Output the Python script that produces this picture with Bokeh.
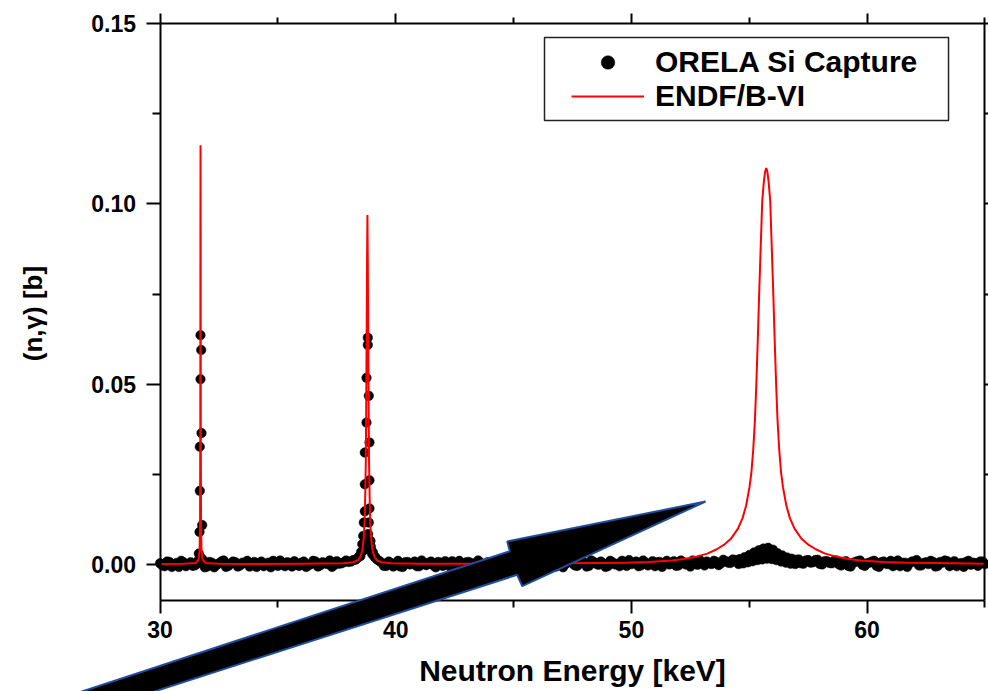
from bokeh.plotting import figure
from bokeh.models import (FixedTicker, PrintfTickFormatter, LinearAxis, Range1d, Label,
                          Legend, LegendItem, PolyAnnotation, BoxAnnotation)
from bokeh.embed import file_html
from bokeh.resources import INLINE

# ---------------- data ----------------
# ORELA Si capture: baseline / broad region (first sweep)
orela_base_e = [
    30.0, 30.2, 30.4, 30.6, 30.8, 31.0, 31.2, 31.4, 31.6, 31.8,
    32.0, 32.2, 32.4, 32.6, 32.8, 33.0, 33.2, 33.4, 33.6, 33.8,
    34.0, 34.2, 34.4, 34.6, 34.8, 35.0, 35.2, 35.4, 35.6, 35.8,
    36.0, 36.2, 36.4, 36.6, 36.8, 37.0, 37.2, 37.4, 37.6, 37.8,
    38.0, 38.2, 38.4, 38.6, 38.8, 39.0, 39.2, 39.4, 39.6, 39.8,
    40.0, 40.2, 40.4, 40.6, 40.8, 41.0, 41.2, 41.4, 41.6, 41.8,
    42.0, 42.2, 42.4, 42.6, 42.8, 43.0, 43.2, 43.4, 43.6, 43.8,
    44.0, 44.2, 44.4, 44.6, 44.8, 45.0, 45.2, 45.4, 45.6, 45.8,
    46.0, 46.2, 46.4, 46.6, 46.8, 47.0, 47.2, 47.4, 47.6, 47.8,
    48.0, 48.2, 48.4, 48.6, 48.8, 49.0, 49.2, 49.4, 49.6, 49.8,
    50.0, 50.2, 50.4, 50.6, 50.8, 51.0, 51.2, 51.4, 51.6, 51.8,
    52.0, 52.2, 52.4, 52.6, 52.8, 53.0, 53.2, 53.4, 53.6, 53.8,
    54.0, 54.2, 54.4,
    54.5, 54.6, 54.7, 54.8, 54.9, 55.0, 55.1, 55.2, 55.3, 55.4,
    55.5, 55.6, 55.7, 55.8, 55.9, 56.0, 56.1, 56.2, 56.3, 56.4,
    56.5, 56.6, 56.7, 56.8, 56.9, 57.0,
    57.2, 57.4, 57.6, 57.8, 58.0, 58.2, 58.4, 58.6, 58.8,
    59.0, 59.2, 59.4, 59.6, 59.8, 60.0, 60.2, 60.4, 60.6, 60.8,
    61.0, 61.2, 61.4, 61.6, 61.8, 62.0, 62.2, 62.4, 62.6, 62.8,
    63.0, 63.2, 63.4, 63.6, 63.8, 64.0, 64.2, 64.4, 64.6, 64.8, 65.0,
]
orela_base_xs = [
    0.0004, -0.0004, 0.0008, 0.0001, -0.0006, 0.0007, 0.0002, -0.0003, 0.0010, 0.0003,
    -0.0005, 0.0006, 0.0000, 0.0009, -0.0006, 0.0003, 0.0007, -0.0002, 0.0005, -0.0005,
    0.0008, 0.0002, -0.0004, 0.0006, 0.0011, -0.0003, 0.0001, 0.0007, -0.0005, 0.0003,
    0.0006, -0.0006, 0.0002, 0.0009, -0.0002, 0.0004, 0.0012, 0.0000, 0.0003, 0.0007,
    0.0008, 0.0013, 0.0020, 0.0038, 0.0044, 0.0030, 0.0015, 0.0006, -0.0003, 0.0005,
    0.0003, -0.0005, 0.0007, 0.0001, 0.0009, -0.0004, 0.0002, 0.0006, -0.0002, 0.0008,
    -0.0003, 0.0004, 0.0010, -0.0005, 0.0003, 0.0007, 0.0000, -0.0004, 0.0006, 0.0002,
    0.0007, -0.0002, 0.0004, 0.0011, -0.0005, 0.0002, 0.0008, -0.0003, 0.0003, 0.0006,
    -0.0004, 0.0007, 0.0001, 0.0009, -0.0005, 0.0004, 0.0002, 0.0010, -0.0002, 0.0003,
    0.0006, -0.0003, 0.0008, 0.0000, 0.0004, -0.0004, 0.0007, 0.0003, 0.0011, -0.0003,
    0.0002, 0.0009, -0.0002, 0.0006, 0.0003, -0.0004, 0.0008, 0.0004, 0.0001, 0.0010,
    -0.0002, 0.0007, 0.0003, 0.0012, 0.0000, 0.0006, 0.0009, 0.0002, 0.0008, 0.0004,
    0.0010, 0.0005, 0.0013,
    0.0008, 0.0016, 0.0011, 0.0021, 0.0014, 0.0027, 0.0019, 0.0034, 0.0024, 0.0040,
    0.0030, 0.0045, 0.0035, 0.0047, 0.0032, 0.0042, 0.0024, 0.0032, 0.0018, 0.0026,
    0.0013, 0.0020, 0.0009, 0.0017, 0.0007, 0.0014,
    0.0004, 0.0012, 0.0006, 0.0013, 0.0002, 0.0010, 0.0005, 0.0011, 0.0001,
    0.0008, -0.0003, 0.0005, 0.0010, 0.0000, 0.0004, 0.0009, -0.0003, 0.0007, 0.0003,
    0.0011, 0.0001, -0.0004, 0.0006, 0.0004, 0.0009, -0.0002, 0.0005, 0.0002, 0.0008,
    -0.0003, 0.0006, 0.0010, 0.0003, -0.0004, 0.0005, 0.0008, 0.0000, 0.0004, 0.0009, 0.0002,
]
# ORELA Si capture: baseline (second, interleaved sweep)
orela_fill_e = [
    30.1, 30.3, 30.5, 30.7, 30.9, 31.1, 31.3, 31.5, 31.7, 31.9,
    32.1, 32.3, 32.5, 32.7, 32.9, 33.1, 33.3, 33.5, 33.7, 33.9,
    34.1, 34.3, 34.5, 34.7, 34.9, 35.1, 35.3, 35.5, 35.7, 35.9,
    36.1, 36.3, 36.5, 36.7, 36.9, 37.1, 37.3, 37.5, 37.7, 37.9,
    38.1, 38.3, 38.5, 38.7, 38.9, 39.1, 39.3, 39.5, 39.7, 39.9,
    40.1, 40.3, 40.5, 40.7, 40.9, 41.1, 41.3, 41.5, 41.7, 41.9,
    42.1, 42.3, 42.5, 42.7, 42.9, 43.1, 43.3, 43.5, 43.7, 43.9,
    44.1, 44.3, 44.5, 44.7, 44.9, 45.1, 45.3, 45.5, 45.7, 45.9,
    46.1, 46.3, 46.5, 46.7, 46.9, 47.1, 47.3, 47.5, 47.7, 47.9,
    48.1, 48.3, 48.5, 48.7, 48.9, 49.1, 49.3, 49.5, 49.7, 49.9,
    50.1, 50.3, 50.5, 50.7, 50.9, 51.1, 51.3, 51.5, 51.7, 51.9,
    52.1, 52.3, 52.5, 52.7, 52.9, 53.1, 53.3, 53.5, 53.7, 53.9,
    54.1, 54.3,
    54.55, 54.65, 54.75, 54.85, 54.95, 55.05, 55.15, 55.25, 55.35, 55.45,
    55.55, 55.65, 55.75, 55.85, 55.95, 56.05, 56.15, 56.25, 56.35, 56.45,
    56.55, 56.65, 56.75, 56.85, 56.95,
    57.1, 57.3, 57.5, 57.7, 57.9, 58.1, 58.3, 58.5, 58.7, 58.9,
    59.1, 59.3, 59.5, 59.7, 59.9, 60.1, 60.3, 60.5, 60.7, 60.9,
    61.1, 61.3, 61.5, 61.7, 61.9, 62.1, 62.3, 62.5, 62.7, 62.9,
    63.1, 63.3, 63.5, 63.7, 63.9, 64.1, 64.3, 64.5, 64.7, 64.9,
]
orela_fill_xs = [
    -0.0002, 0.0009, -0.0006, 0.0005, 0.0011, -0.0004, 0.0007, -0.0001, 0.0010, -0.0007,
    0.0008, -0.0007, 0.0004, 0.0012, -0.0003, 0.0009, -0.0005, 0.0006, 0.0011, 0.0000,
    -0.0006, 0.0009, 0.0003, -0.0007, 0.0008, 0.0012, -0.0004, 0.0005, 0.0010, -0.0003,
    0.0009, -0.0002, 0.0011, -0.0005, 0.0007, 0.0002, -0.0006, 0.0010, 0.0004, 0.0012,
    0.0009, 0.0014, 0.0024, 0.0055, 0.0052, 0.0022, 0.0011, -0.0003, 0.0009, -0.0005,
    0.0011, -0.0006, 0.0008, 0.0003, -0.0004, 0.0012, -0.0001, 0.0009, -0.0007, 0.0006,
    0.0010, -0.0005, 0.0002, 0.0011, -0.0006, 0.0008, 0.0004, 0.0012, -0.0003, 0.0007,
    -0.0007, 0.0010, 0.0003, -0.0004, 0.0012, 0.0006, -0.0005, 0.0009, 0.0001, 0.0011,
    0.0008, -0.0006, 0.0011, 0.0002, 0.0009, -0.0007, 0.0012, 0.0004, -0.0003, 0.0010,
    -0.0005, 0.0012, 0.0003, 0.0009, -0.0006, 0.0011, 0.0001, -0.0004, 0.0008, 0.0013,
    0.0006, -0.0004, 0.0012, -0.0002, 0.0010, 0.0007, -0.0006, 0.0011, 0.0003, -0.0003,
    0.0012, 0.0001, -0.0005, 0.0009, 0.0013, -0.0002, 0.0004, 0.0011, -0.0001, 0.0014,
    0.0006, 0.0015,
    0.0002, 0.0007, 0.0004, 0.0009, 0.0007, 0.0012, 0.0010, 0.0016, 0.0013, 0.0020,
    0.0015, 0.0022, 0.0017, 0.0024, 0.0016, 0.0020, 0.0013, 0.0016, 0.0009, 0.0013,
    0.0006, 0.0010, 0.0003, 0.0008, 0.0002,
    0.0015, 0.0003, 0.0013, 0.0007, 0.0014, 0.0001, 0.0010, 0.0004, 0.0012, -0.0002,
    0.0010, -0.0005, 0.0008, 0.0012, -0.0003, 0.0006, 0.0011, -0.0006, 0.0009, 0.0002,
    -0.0004, 0.0012, 0.0005, -0.0006, 0.0009, 0.0013, -0.0002, 0.0007, 0.0011, -0.0005,
    0.0008, 0.0012, -0.0004, 0.0010, 0.0003, -0.0006, 0.0011, 0.0006, -0.0003, 0.0009,
]
# ORELA: points on the 31.7 keV resonance
orela_peak1_e = [31.718, 31.748, 31.718, 31.761, 31.689, 31.689, 31.790, 31.676, 31.646, 31.730, 31.800]
orela_peak1_xs = [0.0636, 0.0595, 0.0514, 0.0365, 0.0327, 0.0205, 0.0110, 0.0091, 0.0031, 0.0020, 0.0015]
# ORELA: points on the 38.8 keV resonance
orela_peak2_e = [38.816, 38.816, 38.761, 38.859, 38.761, 38.888, 38.689, 38.888, 38.689, 38.888, 38.689,
                 38.859, 38.647, 38.830, 38.620, 38.930, 38.580, 38.950, 38.530, 39.030, 38.480, 39.130]
orela_peak2_xs = [0.0629, 0.0609, 0.0518, 0.0468, 0.0394, 0.0339, 0.0311, 0.0234, 0.0223, 0.0156, 0.0148,
                  0.0117, 0.0117, 0.0085, 0.0080, 0.0066, 0.0057, 0.0050, 0.0035, 0.0035, 0.0025, 0.0022]

# ENDF/B-VI evaluated capture cross section
endf_e = [
    30.0, 31.0, 31.52, 31.64, 31.68, 31.70, 31.71, 31.715, 31.72, 31.725, 31.73, 31.74, 31.76, 31.80, 31.92,
    32.5, 34.0, 36.0,
    37.80, 38.20, 38.40, 38.50, 38.58, 38.64, 38.68, 38.70, 38.73, 38.75, 38.77, 38.785, 38.80,
    38.815, 38.83, 38.85, 38.87, 38.90, 38.92, 38.96, 39.02, 39.10, 39.20, 39.40, 39.80,
    41.0, 43.0, 45.0, 47.0, 48.5,
    49.72, 50.72, 51.72, 52.22, 52.72, 53.22, 53.62, 53.92, 54.22, 54.52, 54.72, 54.87, 55.01, 55.09,
    55.17, 55.24, 55.30, 55.36, 55.42, 55.48, 55.55, 55.62, 55.67, 55.72,
    55.77, 55.82, 55.89, 55.96, 56.02, 56.08, 56.14, 56.20, 56.27, 56.35, 56.43, 56.57, 56.72, 56.92,
    57.22, 57.52, 57.82, 58.22, 58.72, 59.22, 59.72, 60.72, 61.72, 63.0, 65.0,
]
endf_xs = [
    0.0002, 0.0003, 0.0005, 0.0015, 0.0040, 0.0120, 0.0400, 0.0900, 0.1162, 0.0900, 0.0400, 0.0120, 0.0040, 0.0015, 0.0005,
    0.0003, 0.0002, 0.0003,
    0.0004, 0.0007, 0.0013, 0.0022, 0.0039, 0.0072, 0.0118, 0.0165, 0.0280, 0.0450, 0.0670, 0.0850, 0.0969,
    0.0850, 0.0670, 0.0450, 0.0280, 0.0165, 0.0118, 0.0072, 0.0039, 0.0022, 0.0013, 0.0007, 0.0004,
    0.0003, 0.0003, 0.0003, 0.0004, 0.0005,
    0.0006, 0.0008, 0.0012, 0.0016, 0.0022, 0.0031, 0.0043, 0.0055, 0.0072, 0.0100, 0.0130, 0.0165, 0.0215, 0.0255,
    0.0320, 0.0400, 0.0500, 0.0620, 0.0750, 0.0869, 0.1007, 0.1062, 0.1088, 0.1099,
    0.1088, 0.1062, 0.1007, 0.0869, 0.0750, 0.0620, 0.0500, 0.0400, 0.0320, 0.0255, 0.0215, 0.0165, 0.0130, 0.0100,
    0.0072, 0.0055, 0.0043, 0.0031, 0.0022, 0.0016, 0.0012, 0.0008, 0.0006, 0.0005, 0.0003,
]

orela_e = orela_base_e + orela_fill_e + orela_peak1_e + orela_peak2_e
orela_xs = orela_base_xs + orela_fill_xs + orela_peak1_xs + orela_peak2_xs

x_major = [30, 40, 50, 60]
x_minor = [35, 45, 55, 65]
y_major = [0.0, 0.05, 0.10, 0.15]
y_minor = [0.025, 0.075, 0.125]
x_bounds = (30, 65)
y_bounds = (-0.01, 0.15)

# ---------------- figure ----------------
FONT = "Liberation Sans"

# the plotting frame covers the whole canvas; the axes sit at fixed data locations
p = figure(width=988, height=691,
           x_range=Range1d(23.233, 65.150), y_range=Range1d(-0.03510, 0.15632),
           x_axis_location=None, y_axis_location=None,
           output_backend="svg", toolbar_location=None,
           min_border_left=0, min_border_right=0, min_border_top=0, min_border_bottom=0)
p.grid.visible = False
p.outline_line_color = None
p.background_fill_color = "white"
p.border_fill_color = "white"

xt = FixedTicker(ticks=x_major, minor_ticks=x_minor)
yt = FixedTicker(ticks=y_major, minor_ticks=y_minor)


def style_axis(ax, maj_out, min_out, labels=True):
    ax.axis_line_color = "black"
    ax.axis_line_width = 2
    ax.major_tick_line_color = "black"
    ax.minor_tick_line_color = "black"
    ax.major_tick_line_width = 2
    ax.minor_tick_line_width = 2
    ax.major_tick_out = maj_out
    ax.minor_tick_out = min_out
    ax.major_tick_in = 0
    ax.minor_tick_in = 0
    ax.major_label_text_font = FONT
    ax.major_label_text_font_style = "bold"
    ax.major_label_text_font_size = "23px"
    ax.major_label_text_color = "black" if labels else None
    ax.axis_label_text_font = FONT
    ax.axis_label_text_font_style = "bold"
    ax.axis_label_text_color = "black"


xa = LinearAxis(ticker=xt, fixed_location=y_bounds[0], bounds=x_bounds,
                axis_label="Neutron Energy [keV]")
style_axis(xa, 13, 7)
xa.major_label_standoff = 7
xa.axis_label_text_font_size = "30px"
xa.axis_label_standoff = 13
p.add_layout(xa, "below")

ya = LinearAxis(ticker=yt, fixed_location=x_bounds[0], bounds=y_bounds,
                formatter=PrintfTickFormatter(format="%.2f"))
style_axis(ya, 14, 8)
ya.major_label_standoff = 10
p.add_layout(ya, "left")

# y-axis title, placed to the left of the tick labels
y_title = Label(x=24.591, y=0.0696, text="(n,γ) [b]", angle=90, angle_units="deg",
                text_align="center", text_baseline="middle",
                text_font=FONT, text_font_style="bold", text_font_size="26px",
                text_color="black")
p.add_layout(y_title)

top_ax = LinearAxis(ticker=xt, fixed_location=y_bounds[1], bounds=x_bounds)
style_axis(top_ax, 10, 6, labels=False)
p.add_layout(top_ax, "above")

right_ax = LinearAxis(ticker=yt, fixed_location=x_bounds[1], bounds=y_bounds)
style_axis(right_ax, 10, 6, labels=False)
p.add_layout(right_ax, "right")

# data
r_sc = p.scatter(orela_e, orela_xs, size=9.5, marker="circle",
                 fill_color="black", line_color="black", line_width=0.5)
r_ln = p.line(endf_e, endf_xs, line_color="#ff0000", line_width=2)

# legend frame
box = BoxAnnotation(left=46.313, right=63.454, top=0.14607, bottom=0.12307,
                    fill_color="white", fill_alpha=1.0, line_color="#222222",
                    line_width=1.5, line_alpha=1.0)
p.add_layout(box)

legend = Legend(items=[LegendItem(label="ORELA Si Capture", renderers=[r_sc]),
                       LegendItem(label="ENDF/B-VI", renderers=[r_ln])],
                location=(571, 578), padding=0, spacing=0, margin=0,
                glyph_width=73, glyph_height=34, label_height=34, label_standoff=11,
                label_text_font=FONT, label_text_font_style="bold", label_text_font_size="30px",
                label_text_color="black",
                border_line_alpha=0, background_fill_alpha=0)
p.add_layout(legend)

# big arrow annotation
arrow = PolyAnnotation(xs=[53.144, 44.731, 44.841, 25.524, 28.574, 45.155, 45.367],
                       ys=[0.01753, 0.00645, 0.00377, -0.03759, -0.03759, -0.00277, -0.00593],
                       fill_color="black", fill_alpha=1.0,
                       line_color="#1f4e9e", line_width=2, line_alpha=1.0)
p.add_layout(arrow)

open("out.html", "w").write(file_html(p, INLINE))
